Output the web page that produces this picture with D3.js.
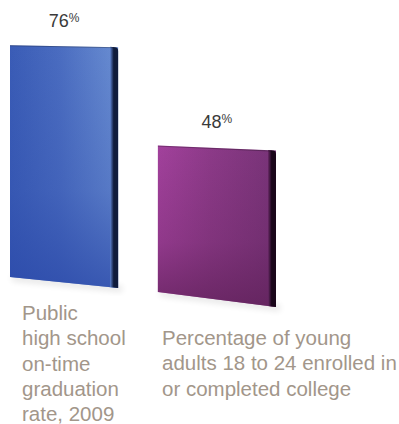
<!DOCTYPE html>
<html>
<head>
<meta charset="utf-8">
<script src="https://cdn.jsdelivr.net/npm/d3@7/dist/d3.min.js"></script>
<style>
  html, body { margin: 0; padding: 0; background: #fff; }
  svg { display: block; }
</style>
</head>
<body>
<script>
// Chart data
const categories = [
  "Public high school on-time graduation rate, 2009",
  "Percentage of young adults 18 to 24 enrolled in or completed college"
];
const values = [76, 48];
const categoryLines = [
  ["Public", "high school", "on-time", "graduation", "rate, 2009"],
  ["Percentage of young", "adults 18 to 24 enrolled in", "or completed college"]
];

const W = 399, H = 424;
const svg = d3.select("body").append("svg").attr("width", W).attr("height", H);
const defs = svg.append("defs");

// Horizontal placement of the bars
const x = d3.scaleBand().domain(categories).range([10, 276]).paddingInner(0.26).paddingOuter(0);
// Bar height in pixels per percentage point
const h = d3.scaleLinear().domain([0, 100]).range([0, 305]);

// Each bar sits on its own floor line (the second one is nearer the viewer)
const style = [
  { floor: 277, widen: -5, dx: 0, topSlant: 2, botSlant: 11,
    face: ["#3a5cb6", "#4a6cc0", "#6a8ed2"], shade: ["#5b7fcc", "#101c3c"], bottomTint: "#2a48a8" },
  { floor: 292, widen: 5, dx: -5, topSlant: 5, botSlant: 15,
    face: ["#a2419c", "#8c3a88", "#773377"], shade: ["#6a2a68", "#1a061a"], bottomTint: "#5e2058" }
];

// Soft drop shadow under each slab
defs.append("filter").attr("id", "soft").attr("x", "-20%").attr("y", "-20%").attr("width", "140%").attr("height", "140%")
  .append("feGaussianBlur").attr("stdDeviation", 3);

categories.forEach((c, i) => {
  const s = style[i];
  const x0 = x(c) + s.dx;
  const x1 = x0 + x.bandwidth() + s.widen;
  const yTop = s.floor - h(values[i]);
  const yBot = s.floor;

  // gradients
  const gFace = defs.append("linearGradient").attr("id", "face" + i)
    .attr("x1", 0).attr("y1", 0).attr("x2", 1).attr("y2", 0);
  gFace.append("stop").attr("offset", "0%").attr("stop-color", s.face[0]);
  gFace.append("stop").attr("offset", "45%").attr("stop-color", s.face[1]);
  gFace.append("stop").attr("offset", "100%").attr("stop-color", s.face[2]);

  const gV = defs.append("linearGradient").attr("id", "vert" + i)
    .attr("x1", 0).attr("y1", 0).attr("x2", 0).attr("y2", 1);
  gV.append("stop").attr("offset", "0%").attr("stop-color", s.bottomTint).attr("stop-opacity", 0);
  gV.append("stop").attr("offset", "60%").attr("stop-color", s.bottomTint).attr("stop-opacity", 0.25);
  gV.append("stop").attr("offset", "100%").attr("stop-color", s.bottomTint).attr("stop-opacity", 0.75);

  const gSide = defs.append("linearGradient").attr("id", "side" + i)
    .attr("x1", 0).attr("y1", 0).attr("x2", 1).attr("y2", 0);
  gSide.append("stop").attr("offset", "0%").attr("stop-color", s.shade[0]);
  gSide.append("stop").attr("offset", "45%").attr("stop-color", s.shade[1]);
  gSide.append("stop").attr("offset", "100%").attr("stop-color", s.shade[1]);

  // shadow
  svg.append("path")
    .attr("d", `M${x0 + 2},${yBot - 2} L${x1 + 4},${yBot + s.botSlant - 2} L${x1 + 4},${yBot + s.botSlant + 4} L${x0 + 2},${yBot + 4} Z`)
    .attr("fill", "#000").attr("opacity", 0.1).attr("filter", "url(#soft)");

  const face = `M${x0},${yTop} L${x1},${yTop + s.topSlant} L${x1},${yBot + s.botSlant} L${x0},${yBot} Z`;
  svg.append("path").attr("d", face).attr("fill", `url(#face${i})`);
  svg.append("path").attr("d", face).attr("fill", `url(#vert${i})`);

  // dark right-hand side of the slab
  const sw = 8;
  svg.append("path")
    .attr("d", `M${x1 - sw},${yTop + s.topSlant - 0.5} L${x1 - 3},${yTop + s.topSlant} Q${x1},${yTop + s.topSlant} ${x1},${yTop + s.topSlant + 4} L${x1},${yBot + s.botSlant} L${x1 - sw},${yBot + s.botSlant - 1} Z`)
    .attr("fill", `url(#side${i})`);

  // thin top edge
  svg.append("line")
    .attr("x1", x0).attr("y1", yTop + 0.5).attr("x2", x1 - 4).attr("y2", yTop + s.topSlant + 0.5)
    .attr("stroke", "#000").attr("stroke-opacity", 0.25).attr("stroke-width", 1);

  // value label
  const cx = (x0 + x1) / 2;
  const t = svg.append("text")
    .attr("x", cx).attr("y", yTop - 18)
    .attr("text-anchor", "middle")
    .attr("font-family", "Liberation Sans, Arial, sans-serif")
    .attr("fill", "#3a3a3a");
  t.append("tspan").attr("font-size", 18).text(values[i]);
  t.append("tspan").attr("font-size", 12).attr("dy", -5).text("%");

  // category label
  const lx = i === 0 ? 22 : 162;
  const firstBaseline = i === 0 ? 320 : 345;
  const lab = svg.append("text")
    .attr("font-family", "Liberation Sans, Arial, sans-serif")
    .attr("font-size", 20.5)
    .attr("fill", "#a2968a");
  categoryLines[i].forEach((ln, k) => {
    lab.append("tspan").attr("x", lx).attr("y", firstBaseline + k * 25.3).text(ln);
  });
});
</script>
</body>
</html>
